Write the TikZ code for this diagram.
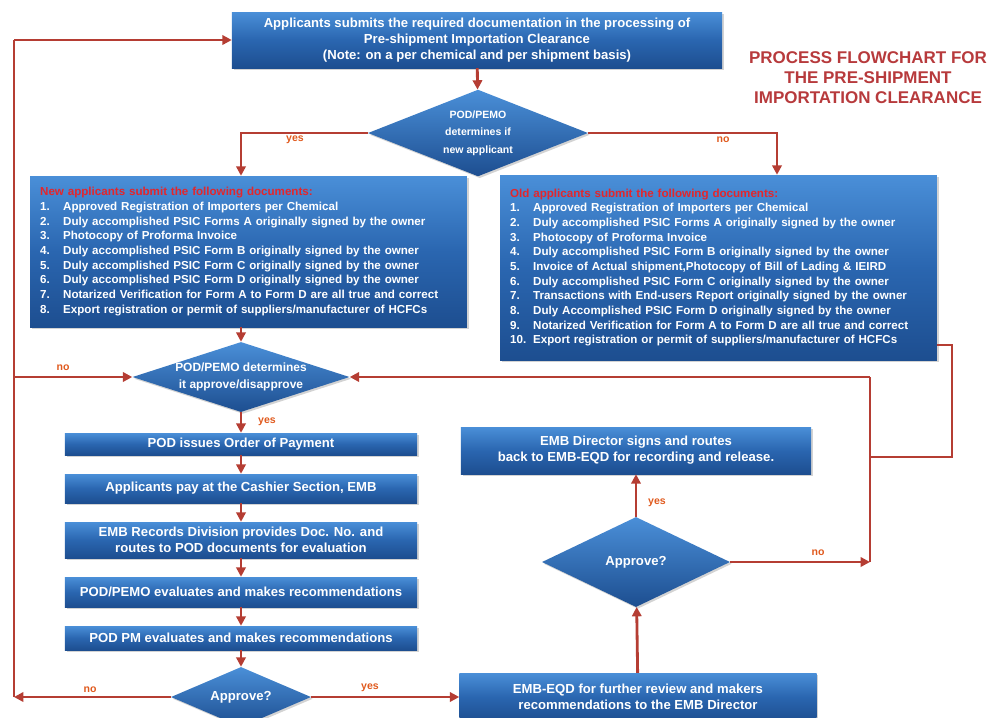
\documentclass[tikz,border=0pt]{standalone}
\usepackage{fontspec}
\setmainfont{Liberation Sans}
\usetikzlibrary{shapes.geometric,arrows.meta,shadows}
\definecolor{flowblue}{HTML}{2A66B0}
\definecolor{flowtop}{HTML}{4A8FD8}
\definecolor{flowbot}{HTML}{1D4E90}
\definecolor{flowred}{HTML}{B53D33}
\definecolor{labred}{HTML}{E05A1E}
\definecolor{titred}{HTML}{B73A3C}
\definecolor{headred}{HTML}{E3262C}

\begin{document}
\begin{tikzpicture}[x=0.03cm,y=-0.03cm,
  box/.style={rectangle, top color=flowtop, bottom color=flowbot, middle color=flowblue,
    text=white, align=center, inner sep=2pt,
    font=\bfseries\fontsize{11.2}{13.6}\selectfont,
    drop shadow={shadow xshift=1.5pt,shadow yshift=-1.5pt,opacity=0.35}},
  listbox/.style={box, align=left, inner xsep=0.3cm, text width=12.5cm,
    font=\bfseries\fontsize{9.9}{12.5}\selectfont},
  choice/.style={diamond, top color=flowtop, bottom color=flowbot, text=white,
    align=center, inner sep=0pt,
    font=\bfseries\fontsize{10.2}{14}\selectfont,
    drop shadow={shadow xshift=1.5pt,shadow yshift=-1.5pt,opacity=0.35}},
  link/.style={flowred, line width=2.4pt},
  flow/.style={link, -{Triangle[length=8pt,width=8pt]}},
  lab/.style={text=labred, font=\bfseries\fontsize{9}{10}\selectfont}]
\def\itemno#1{\makebox[0.69cm][l]{#1.}}
\clip (0,0) rectangle (998,717);
%
% boites
\node[box, minimum width=14.7cm, minimum height=1.68cm] (apply) at (477,40)
  {Applicants submits the required documentation in the processing of\\
   Pre-shipment Importation Clearance\\
   (Note: on a per chemical and per shipment basis)};
\node[text=titred, align=center, font=\bfseries\fontsize{14.5}{17}\selectfont] (title) at (868,78)
  {PROCESS FLOWCHART FOR\\THE PRE-SHIPMENT\\IMPORTATION CLEARANCE};
\node[choice, aspect=2.6, minimum width=6.6cm, minimum height=2.6cm,
  font=\bfseries\fontsize{9}{15}\selectfont] (newapp) at (478,133)
  {POD/PEMO\\determines if\\new applicant};
\node[listbox, minimum height=4.53cm] (newbox) at (248.5,251.5)
  {{\color{headred}New applicants submit the following documents:}\\
   \itemno1Approved Registration of Importers per Chemical\\
   \itemno2Duly accomplished PSIC Forms A originally signed by the owner\\
   \itemno3Photocopy of Proforma Invoice\\
   \itemno4Duly accomplished PSIC Form B originally signed by the owner\\
   \itemno5Duly accomplished PSIC Form C originally signed by the owner\\
   \itemno6Duly accomplished PSIC Form D originally signed by the owner\\
   \itemno7Notarized Verification for Form A to Form D are all true and correct\\
   \itemno8Export registration or permit of suppliers/manufacturer of HCFCs};
\node[listbox, minimum height=5.55cm] (oldbox) at (718.5,267.5)
  {{\color{headred}Old applicants submit the following documents:}\\
   \itemno1Approved Registration of Importers per Chemical\\
   \itemno2Duly accomplished PSIC Forms A originally signed by the owner\\
   \itemno3Photocopy of Proforma Invoice\\
   \itemno4Duly accomplished PSIC Form B originally signed by the owner\\
   \itemno5Invoice of Actual shipment,Photocopy of Bill of Lading \& IEIRD\\
   \itemno6Duly accomplished PSIC Form C originally signed by the owner\\
   \itemno7Transactions with End-users Report originally signed by the owner\\
   \itemno8Duly Accomplished PSIC Form D originally signed by the owner\\
   \itemno9Notarized Verification for Form A to Form D are all true and correct\\
   \itemno{10}Export registration or permit of suppliers/manufacturer of HCFCs};
\node[choice, aspect=3.1, minimum width=6.51cm, minimum height=2.1cm] (crit) at (241,377)
  {POD/PEMO determines\\it approve/disapprove};
\node[box, minimum width=10.56cm, minimum height=0.66cm] (payorder) at (241,444)
  {POD issues Order of Payment};
\node[box, minimum width=10.56cm, minimum height=0.87cm] (cashier) at (241,488.5)
  {Applicants pay at the Cashier Section, EMB};
\node[box, minimum width=10.56cm, minimum height=1.08cm] (records) at (241,540)
  {EMB Records Division provides Doc. No. and\\routes to POD documents for evaluation};
\node[box, minimum width=10.56cm, minimum height=0.9cm] (pemoeval) at (241,592)
  {POD/PEMO evaluates and makes recommendations};
\node[box, minimum width=10.56cm, minimum height=0.72cm] (pmeval) at (241,638)
  {POD PM evaluates and makes recommendations};
\node[choice, aspect=2.33, minimum width=4.2cm, minimum height=1.8cm,
  font=\bfseries\fontsize{11.2}{13}\selectfont] (check1) at (241,697) {Approve?};
\node[box, minimum width=10.71cm, minimum height=1.44cm] (review) at (638,697)
  {EMB-EQD for further review and makers\\recommendations to the EMB Director};
\node[choice, aspect=2.1, minimum width=5.64cm, minimum height=2.7cm,
  font=\bfseries\fontsize{11.2}{13}\selectfont] (check2) at (636,562) {Approve?};
\node[box, minimum width=10.5cm, minimum height=1.41cm] (sign) at (636,450.5)
  {EMB Director signs and routes\\back to EMB-EQD for recording and release.};
%
% coins des lignes
\coordinate (lt) at (14,40);
\coordinate (lm) at (14,377);
\coordinate (lb) at (14,697);
\coordinate (noturn) at (777,128);
\coordinate (rc1) at (952,345);
\coordinate (rc2) at (952,457);
\coordinate (rj) at (870,457);
\coordinate (rtop) at (870,377);
\coordinate (rbot) at (870,562);
%
% fleches
\draw[flow] (apply) -- (newapp);
\draw[flow] (newapp.west) -| (newbox.north -| crit.north);
\draw[flow] (newapp.east) -| (noturn |- oldbox.north);
\draw[flow] (newbox.south -| crit.north) -- (crit);
\draw[link] (rc1 -| oldbox.east) -- (rc1) -- (rc2) -- (rj);
\draw[flow] (check2) -- (rbot);
\draw[link] (rbot) -- (rtop);
\draw[flow] (rtop) -- (crit);
\draw[flow] (check1) -- (lb);
\draw[link] (lb) -- (lt);
\draw[flow] (lt) -- (apply);
\draw[flow] (lm) -- (crit);
\draw[flow] (crit) -- (payorder);
\draw[flow] (payorder) -- (cashier);
\draw[flow] (cashier) -- (records);
\draw[flow] (records) -- (pemoeval);
\draw[flow] (pemoeval) -- (pmeval);
\draw[flow] (pmeval) -- (check1);
\draw[flow] (check1) -- (review);
\draw[flow] (review) -- (check2);
\draw[flow] (check2) -- (sign);
%
% Etiquettes :
\node[lab] (yesnew) at (295,140) {yes};
\node[lab] (noold) at (723,140) {no};
\node[lab] (nocrit) at (63,368) {no};
\node[lab] (yescrit) at (267,422) {yes};
\node[lab] (nocheck1) at (90,690) {no};
\node[lab] (yescheck1) at (370,688) {yes};
\node[lab] (yescheck2) at (657,503) {yes};
\node[lab] (nocheck2) at (818,553) {no};
\end{tikzpicture}
\end{document}
